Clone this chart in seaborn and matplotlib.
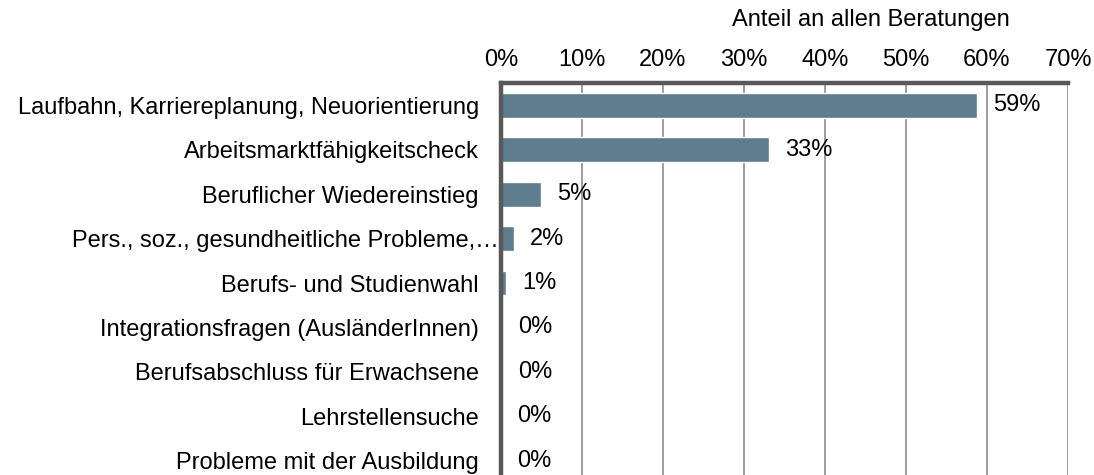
import matplotlib
matplotlib.use("Agg")
import matplotlib.pyplot as plt
import matplotlib.transforms as mtransforms
import seaborn as sns
import pandas as pd

categories = [
    "Laufbahn, Karriereplanung, Neuorientierung",
    "Arbeitsmarktfähigkeitscheck",
    "Beruflicher Wiedereinstieg",
    "Pers., soz., gesundheitliche Probleme,…",
    "Berufs- und Studienwahl",
    "Integrationsfragen (AusländerInnen)",
    "Berufsabschluss für Erwachsene",
    "Lehrstellensuche",
    "Probleme mit der Ausbildung",
]
shares = [58.8, 33.1, 4.9, 1.6, 0.6, 0.1, 0.1, 0.05, 0.05]
value_labels = ["59%", "33%", "5%", "2%", "1%", "0%", "0%", "0%", "0%"]
xticks = [0, 10, 20, 30, 40, 50, 60, 70]
xlabel = "Anteil an allen Beratungen"

sns.set_style("white")
plt.rcParams["font.family"] = ["Liberation Sans", "DejaVu Sans"]
FS = 17

df = pd.DataFrame({"cat": categories, "share": shares})

fig = plt.figure(figsize=(10.94, 4.75), dpi=100)
ax = fig.add_axes([501 / 1094, -8 / 475, 567 / 1094, 400 / 475])

sns.barplot(data=df, x="share", y="cat", orient="h", color="#5F7D8E",
            saturation=1, width=0.56, ax=ax)

ax.set_xlim(0, 70)
ax.set_xticks(xticks)
ax.set_xticklabels([f"{t}%" for t in xticks], fontsize=FS)
ax.xaxis.tick_top()
ax.tick_params(axis="x", length=0, pad=9, labelcolor="black")
ax.tick_params(axis="y", length=0, pad=16, labelsize=FS, labelcolor="black")
ax.set_ylabel("")
ax.set_xlabel(xlabel, fontsize=FS, color="black")
ax.xaxis.set_label_position("top")
ax.xaxis.set_label_coords((871 - 501) / 567, 1 + (83 - 20) / 400)
ax.xaxis.label.set_va("center")
ax.xaxis.label.set_ha("center")

ax.grid(axis="x", color="#8c8c8c", linewidth=1.2)
ax.grid(axis="y", visible=False)
ax.set_axisbelow(True)

for side in ["right", "bottom"]:
    ax.spines[side].set_visible(False)
for side in ["left", "top"]:
    ax.spines[side].set_visible(True)
    ax.spines[side].set_color("#595959")
    ax.spines[side].set_linewidth(3.2)
    ax.spines[side].set_zorder(5)

# shift the truncated label closer to the axis like the reference
lbl = ax.get_yticklabels()[3]
lbl.set_transform(lbl.get_transform() +
                  mtransforms.ScaledTranslation(20 / 100, 0, fig.dpi_scale_trans))

for i, (v, t) in enumerate(zip(shares, value_labels)):
    ax.annotate(t, xy=(v, i), xytext=(11.5, 0), textcoords="offset points",
                ha="left", va="center", fontsize=FS, color="black")

fig.savefig("out.png", dpi=100)
